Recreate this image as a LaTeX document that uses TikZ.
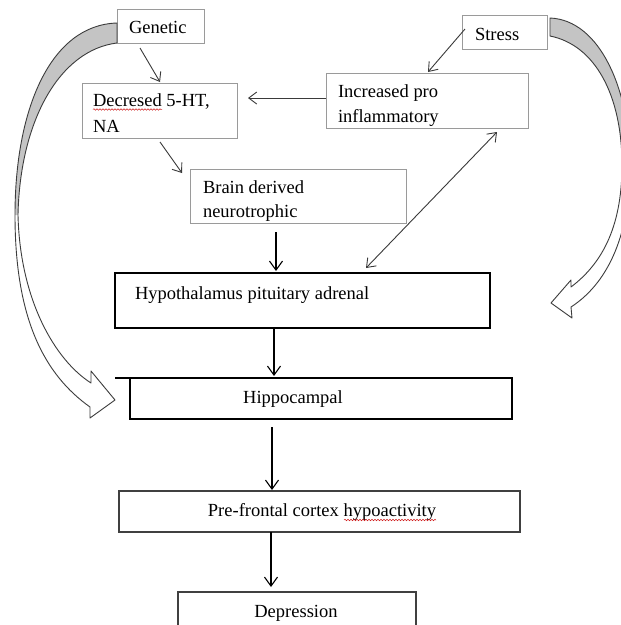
\documentclass[tikz,border=0pt]{standalone}
\usepackage{fontspec}
\setmainfont{Liberation Serif}
\usetikzlibrary{arrows.meta,calc,decorations.pathmorphing}
\definecolor{lightbox}{HTML}{9A9A9A}
\definecolor{darkline}{HTML}{3A3A3A}
\definecolor{bandfill}{HTML}{C4C4C4}
\definecolor{bandline}{HTML}{3C3C3C}
\definecolor{squig}{HTML}{D02020}
\begin{document}
\begin{tikzpicture}[x=1pt,y=-1pt,
  lbox/.style={draw=lightbox, line width=0.9pt, inner sep=0pt, outer sep=0pt},
  dbox/.style={draw=black, line width=1.1pt, inner sep=0pt, outer sep=0pt},
  txt/.style={inner sep=0pt, outer sep=0pt, font=\fontsize{18.5}{22}\selectfont},
  conn/.style={draw=darkline, line width=0.9pt, -{Straight Barb[length=8pt,width=12pt]}},
  dconn/.style={draw=black, line width=1.1pt, -{Straight Barb[length=9pt,width=13pt]}},
  biconn/.style={draw=darkline, line width=0.9pt, {Straight Barb[length=8pt,width=12pt]}-{Straight Barb[length=8pt,width=12pt]}},
  band/.style={draw=bandline, line width=0.9pt, line join=round},
  bandshade/.style={fill=bandfill},
  spell/.style={draw=squig, line width=0.5pt, decorate, decoration={snake, amplitude=0.8pt, segment length=3pt}}
]
\useasboundingbox (0,0) rectangle (621,625);
\clip (0,0) rectangle (621,625);
\fill[white] (0,0) rectangle (621,625);

% boxes
\node[lbox, minimum width=87pt, minimum height=34pt] (gen) at (160.5,26) {};
\node[lbox, minimum width=155pt, minimum height=55pt] (dec) at (159.5,110.5) {};
\node[lbox, minimum width=216pt, minimum height=54pt] (brain) at (298,196) {};
\node[lbox, minimum width=202pt, minimum height=55pt] (inc) at (427,100.5) {};
\node[lbox, minimum width=85pt, minimum height=34pt] (stress) at (504.5,32) {};
\node[dbox, minimum width=375pt, minimum height=55pt] (hypo) at (302.5,300.5) {};
\node[dbox, minimum width=382pt, minimum height=41pt] (hippo) at (321,398.5) {};
\node[dbox, draw=black!75, minimum width=401pt, minimum height=41pt] (pre) at (319.5,511.5) {};
\node[dbox, draw=black!75, minimum width=238pt, minimum height=48pt] (dep) at (297,616) {};
\draw[black, line width=1.1pt] (hippo.north west) -- ++(-15pt,0pt);

% texts
\node[txt, anchor=base west] (gent) at (129,33) {Genetic};
\node[txt, anchor=base west] (dect1) at (93,106) {Decresed 5-HT,};
\node[txt, anchor=base west] (dect2) at (93,132) {NA};
\node[txt, anchor=base west] (brt1) at (203,193) {Brain derived};
\node[txt, anchor=base west] (brt2) at (203,217) {neurotrophic};
\node[txt, anchor=base west] (inct1) at (338,97) {Increased pro};
\node[txt, anchor=base west] (inct2) at (338,122) {inflammatory};
\node[txt, anchor=base west] (strt) at (475,40) {Stress};
\node[txt, anchor=base west] (hypt) at (135,299) {Hypothalamus pituitary adrenal};
\node[txt, anchor=base] (hipt) at (293,403) {Hippocampal};
\node[txt, anchor=base] (pret) at (322,516) {Pre-frontal cortex hypoactivity};
\node[txt, anchor=base] (dept) at (296,617) {Depression};

% spelling marks
\draw[spell] (93,109.5) -- (162,109.5);
\draw[spell] (344,520) -- (436,520);

% connectors
\draw[conn] ([xshift=-20.5pt,yshift=-5pt]gen.south) -- ([xshift=0.5pt,yshift=1pt]dec.north);
\draw[conn] ([yshift=2.5pt]inc.west) -- ([xshift=11pt,yshift=12.5pt]dec.east);
\draw[conn] ([xshift=0.5pt,yshift=-4pt]dec.south) -- ([xshift=-8pt,yshift=-4pt]brain.north west);
\draw[conn] ([xshift=3pt,yshift=3pt]stress.west) -- ([xshift=1pt,yshift=1pt]inc.north);
\draw[biconn] ([xshift=-31pt,yshift=-4pt]inc.south east) -- ([xshift=63.5pt,yshift=5pt]hypo.north);
\draw[dconn] ([xshift=-22pt,yshift=-9pt]brain.south) -- ([xshift=-26.5pt,yshift=2pt]hypo.north);
\draw[dconn] ([xshift=-28.5pt]hypo.south) -- ([xshift=-47pt,yshift=2pt]hippo.north);
\draw[dconn] ([xshift=-49pt,yshift=-8pt]hippo.south) -- ([xshift=-47.5pt,yshift=1pt]pre.north);
\draw[dconn] ([xshift=-48.5pt]pre.south) -- ([xshift=-26pt,yshift=5pt]dep.north);

% left curved block arrow (Genetic -> Hippocampal)
\fill[bandshade] (117,23) .. controls (50,25) and (15,110) .. (15,215) -- (18,215) .. controls (20,120) and (60,50) .. (117,43) -- cycle;
\draw[band] (117,23) .. controls (50,25) and (15,110) .. (15,215)
  .. controls (15,320) and (45,375) .. (90,407) -- (90,418) -- (115,400) -- (91,371) -- (91,383)
  .. controls (55,360) and (20,300) .. (18,215)
  .. controls (20,120) and (60,50) .. (117,43) -- cycle;

% right curved block arrow (Stress -> Hypothalamus)
\fill[bandshade] (550,18) .. controls (600,20) and (630,90) .. (630,165) -- (622,165) .. controls (622,95) and (595,45) .. (550,36) -- cycle;
\draw[band] (550,18) .. controls (600,20) and (630,90) .. (630,165)
  .. controls (630,240) and (605,285) .. (571,307) -- (572,318) -- (551,303) -- (571,280) -- (571,287)
  .. controls (600,265) and (622,230) .. (622,165)
  .. controls (622,95) and (595,45) .. (550,36) -- cycle;
\end{tikzpicture}
\end{document}
